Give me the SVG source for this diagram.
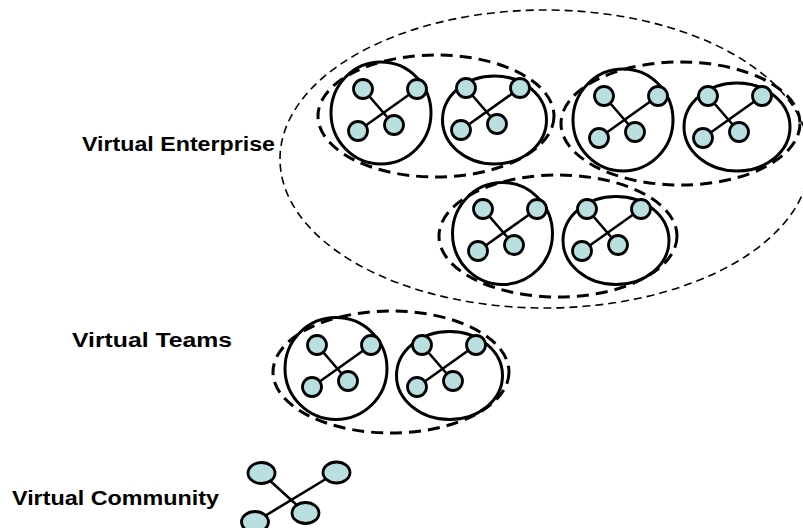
<svg xmlns="http://www.w3.org/2000/svg" width="803" height="528" viewBox="0 0 803 528">
<style>
.lbl{font-family:"Liberation Sans",Arial,sans-serif;font-weight:bold;font-size:20px;fill:#000}
.ent{fill:none;stroke:#000;stroke-width:1.6;stroke-dasharray:8 5}
.team{fill:none;stroke:#000;stroke-width:3;stroke-dasharray:12 7}
.mem{fill:none;stroke:#000;stroke-width:3}
.n{fill:#badfe1;stroke:#000;stroke-width:2.8}
.c{stroke:#000;stroke-width:2.6}
</style>
<rect width="803" height="528" fill="#fff"/>
<text class="lbl" x="82" y="151" textLength="193" lengthAdjust="spacingAndGlyphs">Virtual Enterprise</text>
<text class="lbl" x="72" y="347" textLength="160" lengthAdjust="spacingAndGlyphs">Virtual Teams</text>
<text class="lbl" x="12" y="505" textLength="207" lengthAdjust="spacingAndGlyphs">Virtual Community</text>
<g id="enterprise"><ellipse class="ent" cx="545" cy="159" rx="265" ry="149"/></g>
<g id="teamA"><ellipse class="team" cx="436" cy="116" rx="118" ry="61"/></g>
<g id="teamB"><ellipse class="team" cx="680.5" cy="123.5" rx="119.5" ry="61.5"/></g>
<g id="teamC"><ellipse class="team" cx="558" cy="236" rx="119" ry="61"/></g>
<g id="teamT"><ellipse class="team" cx="391" cy="372" rx="118" ry="61"/></g>
<g id="connectors">
<line class="c" x1="363" y1="89" x2="394" y2="125"/><line class="c" x1="358" y1="131" x2="417" y2="89"/>
<line class="c" x1="466" y1="88" x2="497" y2="124"/><line class="c" x1="461" y1="130" x2="520" y2="88"/>
<line class="c" x1="604" y1="96" x2="635" y2="132"/><line class="c" x1="599" y1="138" x2="658" y2="96"/>
<line class="c" x1="708" y1="96" x2="739" y2="132"/><line class="c" x1="703" y1="138" x2="762" y2="96"/>
<line class="c" x1="483" y1="209" x2="514" y2="245"/><line class="c" x1="478" y1="251" x2="537" y2="209"/>
<line class="c" x1="587" y1="209" x2="618" y2="245"/><line class="c" x1="582" y1="251" x2="641" y2="209"/>
<line class="c" x1="317" y1="345" x2="348" y2="381"/><line class="c" x1="312" y1="387" x2="371" y2="345"/>
<line class="c" x1="422" y1="345" x2="453" y2="381"/><line class="c" x1="417" y1="387" x2="476" y2="345"/>
<line class="c" x1="261.5" y1="473" x2="305.5" y2="513"/><line class="c" x1="255" y1="522" x2="336.5" y2="472.5"/>
</g>
<g id="memberA1"><ellipse class="mem" cx="381" cy="113" rx="50" ry="51"/>
<circle class="n" cx="363" cy="89" r="9.5"/><circle class="n" cx="417" cy="89" r="9.5"/><circle class="n" cx="358" cy="131" r="9.5"/><circle class="n" cx="394" cy="125" r="9.5"/></g>
<g id="memberA2"><ellipse class="mem" cx="494.5" cy="120" rx="52" ry="44"/>
<circle class="n" cx="466" cy="88" r="9.5"/><circle class="n" cx="520" cy="88" r="9.5"/><circle class="n" cx="461" cy="130" r="9.5"/><circle class="n" cx="497" cy="124" r="9.5"/></g>
<g id="memberB1"><ellipse class="mem" cx="623" cy="120" rx="50" ry="51"/>
<circle class="n" cx="604" cy="96" r="9.5"/><circle class="n" cx="658" cy="96" r="9.5"/><circle class="n" cx="599" cy="138" r="9.5"/><circle class="n" cx="635" cy="132" r="9.5"/></g>
<g id="memberB2"><ellipse class="mem" cx="737" cy="127" rx="53" ry="44"/>
<circle class="n" cx="708" cy="96" r="9.5"/><circle class="n" cx="762" cy="96" r="9.5"/><circle class="n" cx="703" cy="138" r="9.5"/><circle class="n" cx="739" cy="132" r="9.5"/></g>
<g id="memberC1"><ellipse class="mem" cx="502.5" cy="233.5" rx="50" ry="51"/>
<circle class="n" cx="483" cy="209" r="9.5"/><circle class="n" cx="537" cy="209" r="9.5"/><circle class="n" cx="478" cy="251" r="9.5"/><circle class="n" cx="514" cy="245" r="9.5"/></g>
<g id="memberC2"><ellipse class="mem" cx="616" cy="240.5" rx="53" ry="44"/>
<circle class="n" cx="587" cy="209" r="9.5"/><circle class="n" cx="641" cy="209" r="9.5"/><circle class="n" cx="582" cy="251" r="9.5"/><circle class="n" cx="618" cy="245" r="9.5"/></g>
<g id="memberT1"><ellipse class="mem" cx="336" cy="368.5" rx="51" ry="51"/>
<circle class="n" cx="317" cy="345" r="9.5"/><circle class="n" cx="371" cy="345" r="9.5"/><circle class="n" cx="312" cy="387" r="9.5"/><circle class="n" cx="348" cy="381" r="9.5"/></g>
<g id="memberT2"><ellipse class="mem" cx="449.5" cy="375.5" rx="53" ry="44"/>
<circle class="n" cx="422" cy="345" r="9.5"/><circle class="n" cx="476" cy="345" r="9.5"/><circle class="n" cx="417" cy="387" r="9.5"/><circle class="n" cx="453" cy="381" r="9.5"/></g>
<g id="community">
<ellipse class="n" cx="261.5" cy="473" rx="13.5" ry="10.5"/><ellipse class="n" cx="336.5" cy="472.5" rx="13.5" ry="10.5"/><ellipse class="n" cx="255" cy="522" rx="13.5" ry="10.5"/><ellipse class="n" cx="305.5" cy="513" rx="13.5" ry="10.5"/>
</g>
</svg>
